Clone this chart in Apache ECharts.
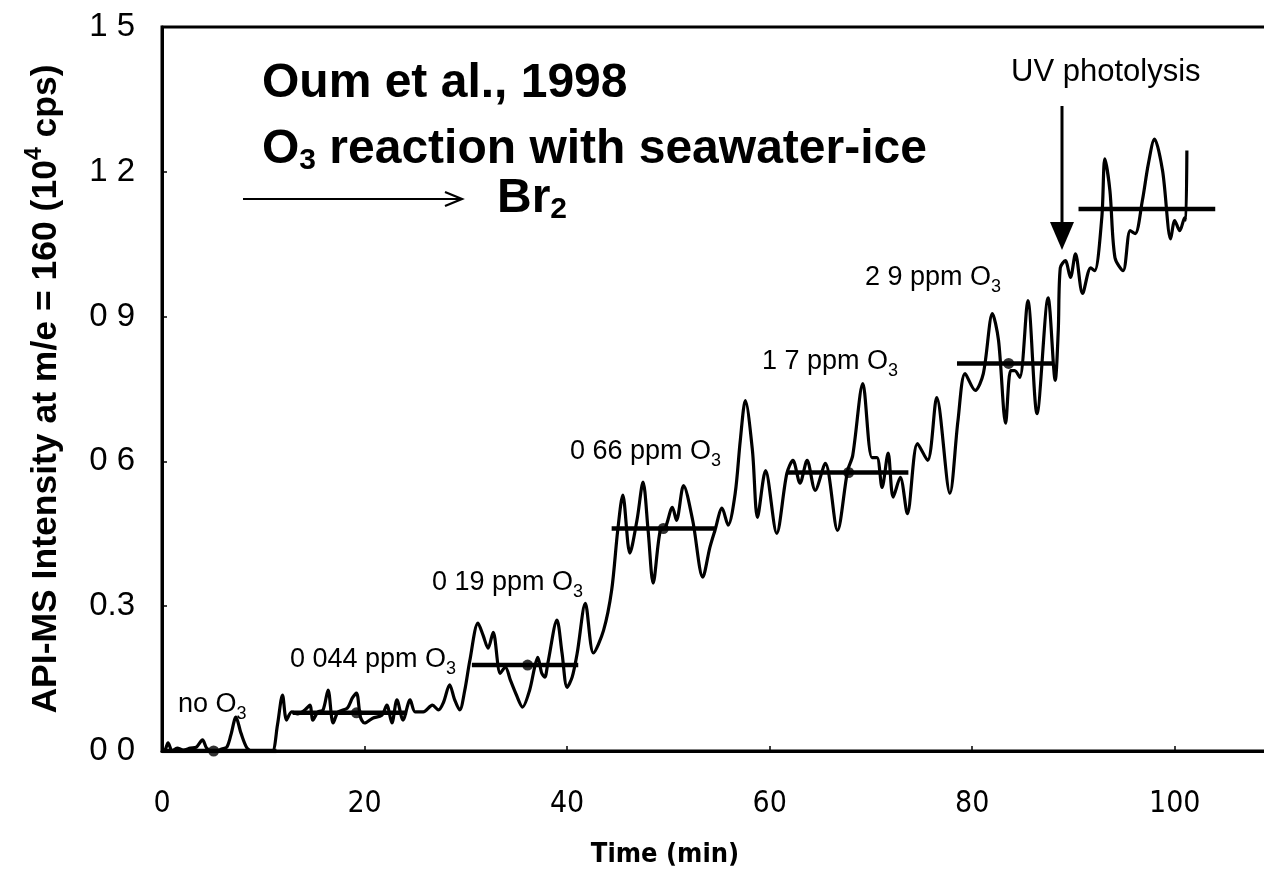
<!DOCTYPE html>
<html>
<head>
<meta charset="utf-8">
<script src="https://cdn.jsdelivr.net/npm/echarts@6/dist/echarts.min.js"></script>
<style>
  html, body { margin: 0; padding: 0; background: #fff; }
  #chart { width: 1264px; height: 887px; }
</style>
</head>
<body>
<div id="chart"></div>
<script>
// Br2 signal (API-MS, m/e = 160) versus time, in min and 10^4 cps
const timeMin = [0,0.3,0.6,1.0,1.5,2.1,2.8,3.4,4.0,4.4,
  4.9,5.4,5.9,6.4,6.8,7.3,7.8,8.4,9.0,9.7,
  10.3,10.9,11.4,11.9,12.3,12.8,13.4,14.1,14.6,14.9,
  15.4,15.9,16.4,16.9,17.4,18.3,18.8,19.2,19.6,20.0,
  20.8,21.7,22.2,22.7,23.2,23.8,24.5,25.0,25.8,26.7,
  27.3,27.8,28.4,28.9,29.4,29.9,30.4,31.2,31.7,32.2,
  32.7,33.4,33.9,34.4,35.0,35.6,36.3,36.8,37.1,37.5,
  37.8,38.1,39.0,39.5,40.0,40.5,41.0,41.8,42.6,43.6,
  44.4,45.0,45.5,46.2,46.9,47.5,48.0,48.5,49.2,49.7,
  50.4,50.8,51.5,52.4,53.4,54.1,54.6,55.3,55.9,56.6,
  57.1,57.6,58.3,58.8,59.6,60.7,61.7,62.3,63.0,63.7,
  64.5,65.5,66.7,67.7,68.2,69.2,70.1,70.6,71.1,71.7,
  72.2,72.9,73.6,74.6,75.6,76.5,77.8,78.6,79.3,80.3,
  81.1,82.0,82.6,83.3,83.8,84.2,84.7,85.5,86.4,87.5,
  88.2,88.5,88.7,89.2,89.7,90.2,90.9,91.7,92.1,92.8,
  93.1,93.6,94.1,94.9,95.6,96.1,96.8,97.4,98.0,98.8,
  99.6,100.0,100.5,101.0,101.1,101.2];

const signal = [0,0.002,0.017,0,0.006,0.002,0.006,0.008,0.023,0.006,
  0,0,0.004,0.008,0.033,0.070,0.037,0.006,0,0,
  0,0,0.054,0.116,0.064,0.081,0.077,0.085,0.095,0.064,
  0.081,0.085,0.126,0.058,0.081,0.089,0.110,0.120,0.070,0.058,
  0.068,0.074,0.095,0.058,0.106,0.064,0.106,0.081,0.081,0.095,
  0.085,0.101,0.137,0.106,0.085,0.126,0.188,0.265,0.240,0.213,
  0.246,0.161,0.174,0.147,0.116,0.091,0.126,0.174,0.194,0.161,
  0.153,0.182,0.271,0.203,0.132,0.153,0.203,0.306,0.203,0.250,
  0.333,0.457,0.530,0.410,0.478,0.557,0.457,0.348,0.457,0.463,
  0.505,0.478,0.550,0.478,0.360,0.422,0.457,0.503,0.468,0.534,
  0.643,0.726,0.623,0.484,0.581,0.451,0.575,0.602,0.555,0.602,
  0.540,0.596,0.457,0.581,0.612,0.761,0.608,0.608,0.546,0.617,
  0.526,0.567,0.492,0.637,0.602,0.732,0.534,0.685,0.782,0.747,
  0.782,0.906,0.851,0.679,0.788,0.788,0.774,0.933,0.699,0.939,
  0.768,0.871,1.001,1.016,0.981,1.030,0.948,1.001,0.995,1.105,
  1.227,1.161,1.022,0.995,1.078,1.072,1.140,1.217,1.268,1.202,
  1.061,1.099,1.078,1.105,1.10,1.244];

// mean level of each ozone step (start, end in min)
const stepStart = [0, 12.9, 30.6, 44.4, 61.7, 78.5, 90.5];
const stepEnd   = [11.3, 24.2, 41.1, 54.6, 73.7, 88.0, 104.0];
const stepLevel = [0, 0.079, 0.178, 0.461, 0.577, 0.803, 1.123];
// averaging points drawn on the step levels
const markTime  = [5.1, 19.2, 36.1, 49.5, 67.8, 83.6];
const markLevel = [0, 0.079, 0.178, 0.461, 0.577, 0.803];

const xTickLabels = ['0', '20', '40', '60', '80', '100'];
const yTickLabels = ['0 0', '0.3', '0 6', '0 9', '1 2', '1 5'];

// pick a narrow face for the time axis if one is installed
function fontAvailable(name) {
  const ctx = document.createElement('canvas').getContext('2d');
  const sample = '0123456789 Time (min) mwi';
  for (const base of ['monospace', 'serif']) {
    ctx.font = '40px ' + base;
    const w0 = ctx.measureText(sample).width;
    ctx.font = '40px "' + name + '", ' + base;
    if (ctx.measureText(sample).width !== w0) return true;
  }
  return false;
}
const narrowFace = ['Liberation Sans Narrow', 'Arial Narrow', 'DejaVu Sans Condensed'].find(fontAvailable);
const timeFont = narrowFace || 'Liberation Sans';
const timeTickSize = narrowFace === 'DejaVu Sans Condensed' ? 30 : (narrowFace ? 32 : 27);
const timeNameSize = narrowFace === 'DejaVu Sans Condensed' ? 27 : (narrowFace ? 31 : 25);

const SANS = '"Liberation Sans", Arial, Helvetica, sans-serif';

const chart = echarts.init(document.getElementById('chart'), null, { renderer: 'canvas' });

const series = [{
  type: 'line',
  data: timeMin.map((t, i) => [t, signal[i]]),
  showSymbol: false,
  symbol: 'none',
  smooth: 0.3,
  lineStyle: { color: '#000', width: 3.2 },
  z: 3
}];
stepLevel.forEach((lv, i) => {
  series.push({
    type: 'line',
    data: [[stepStart[i], lv], [stepEnd[i], lv]],
    symbol: 'none',
    lineStyle: { color: '#000', width: 4.5 },
    z: 4
  });
});
series.push({
  type: 'scatter',
  data: markTime.map((t, i) => [t, markLevel[i]]),
  symbolSize: 11,
  itemStyle: { color: '#000' },
  z: 5
});

function label(text, x, y, size, sub, drop, bold) {
  return {
    type: 'text', x: x, y: y, z: 10,
    style: {
      text: text,
      fontFamily: SANS, fontSize: size, fontWeight: bold ? 'bold' : 'normal',
      fill: '#000', align: 'left', verticalAlign: 'middle',
      lineHeight: Math.round(size * 1.7),
      rich: { s: { fontSize: sub, fontFamily: SANS, fontWeight: bold ? 'bold' : 'normal', fill: '#000', padding: [drop * 2, 0, 0, 0] } }
    }
  };
}

const graphics = [
  label('Oum et al., 1998', 262, 84, 48, 30, 0, true),
  label('O{s|3} reaction with seawater-ice', 262, 150, 48, 30, 11, true),
  label('Br{s|2}', 497, 199, 48, 30, 11, true),
  // reaction arrow
  { type: 'line', z: 10, shape: { x1: 243, y1: 199, x2: 461, y2: 199 }, style: { stroke: '#000', lineWidth: 2.2 } },
  { type: 'polyline', z: 10, shape: { points: [[445, 192], [462, 199], [445, 206]] }, style: { stroke: '#000', lineWidth: 2.2, fill: null } },
  label('no O{s|3}', 178, 705, 27, 18, 9, false),
  label('0 044 ppm O{s|3}', 290, 660, 27, 18, 9, false),
  label('0 19 ppm O{s|3}', 432, 583, 27, 18, 9, false),
  label('0 66 ppm O{s|3}', 570, 452, 27, 18, 9, false),
  label('1 7 ppm O{s|3}', 762, 362, 27, 18, 9, false),
  label('2 9 ppm O{s|3}', 865, 278, 27, 18, 9, false),
  label('UV photolysis', 1011, 72, 31, 18, 0, false),
  // UV photolysis arrow
  { type: 'line', z: 10, shape: { x1: 1062, y1: 106, x2: 1062, y2: 226 }, style: { stroke: '#000', lineWidth: 3 } },
  { type: 'polygon', z: 10, shape: { points: [[1050, 222], [1074, 222], [1062, 250]] }, style: { fill: '#000' } }
];

chart.setOption({
  animation: false,
  backgroundColor: '#fff',
  grid: {
    left: 162, top: 27, right: -12, bottom: 136,
    show: true, borderColor: '#000', borderWidth: 3,
    containLabel: false, outerBoundsMode: 'none'
  },
  xAxis: {
    type: 'value', min: 0, max: 110, interval: 20,
    axisLine: { show: true, onZero: false, lineStyle: { color: '#000', width: 3 } },
    axisTick: { show: true, inside: true, length: 5, lineStyle: { color: '#000', width: 1.5 } },
    splitLine: { show: false },
    axisLabel: {
      color: '#000', fontFamily: timeFont, fontSize: timeTickSize, margin: 38,
      formatter: v => (v <= 100 && xTickLabels[Math.round(v / 20)] !== undefined) ? xTickLabels[Math.round(v / 20)] : ''
    },
    name: 'Time (min)', nameLocation: 'middle', nameGap: 90,
    nameTextStyle: {
      color: '#000', fontFamily: timeFont, fontSize: timeNameSize, fontWeight: 'bold',
      padding: [0, 108, 0, 0]
    }
  },
  yAxis: {
    type: 'value', min: 0, max: 1.5, interval: 0.3,
    axisLine: { show: true, lineStyle: { color: '#000', width: 3 } },
    axisTick: { show: true, inside: true, length: 5, lineStyle: { color: '#000', width: 1.5 } },
    splitLine: { show: false },
    axisLabel: {
      color: '#000', fontFamily: SANS, fontSize: 33, margin: 27,
      formatter: v => yTickLabels[Math.round(v / 0.3)]
    },
    name: 'API-MS Intensity at m/e = 160 (10{p|4} cps)',
    nameLocation: 'middle', nameRotate: 90, nameGap: 91,
    nameTextStyle: {
      color: '#000', fontFamily: SANS, fontSize: 35.5, fontWeight: 'bold', lineHeight: 50,
      rich: { p: { fontSize: 23, fontWeight: 'bold', fontFamily: SANS, color: '#000', padding: [0, 0, 22, 0] } }
    }
  },
  graphic: graphics,
  series: series
});
</script>
</body>
</html>
